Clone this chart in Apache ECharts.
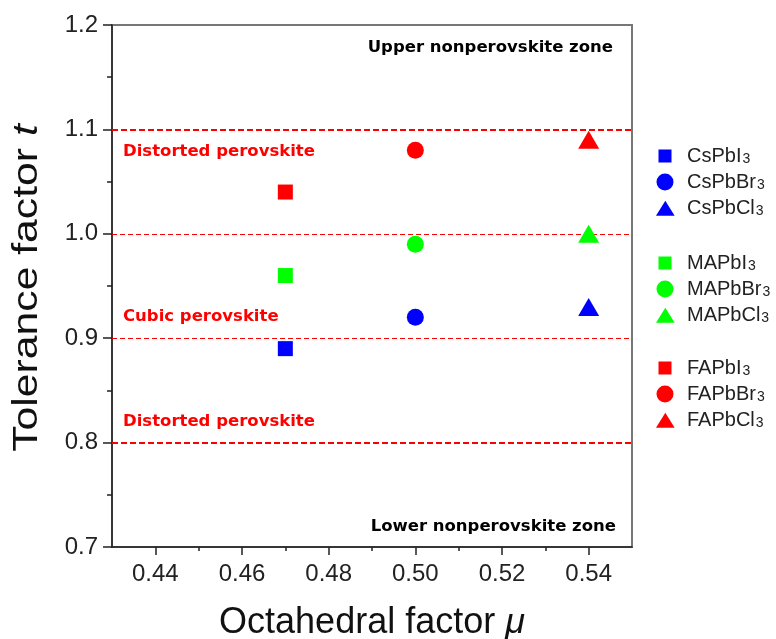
<!DOCTYPE html>
<html>
<head>
<meta charset="utf-8">
<script src="https://cdn.jsdelivr.net/npm/echarts@6/dist/echarts.min.js"></script>
<style>html,body{margin:0;padding:0;background:#fff}#c{width:776px;height:639px}</style>
</head>
<body>
<div id="c"></div>
<script>
// ---- data ----
const compounds = ['CsPbI3','CsPbBr3','CsPbCl3','MAPbI3','MAPbBr3','MAPbCl3','FAPbI3','FAPbBr3','FAPbCl3'];
const muValues  = [0.47, 0.50, 0.54, 0.47, 0.50, 0.54, 0.47, 0.50, 0.54];
const tValues   = [0.89, 0.92, 0.93, 0.96, 0.99, 1.00, 1.04, 1.08, 1.09];
const legendGroups = [['CsPbI3','CsPbBr3','CsPbCl3'],['MAPbI3','MAPbBr3','MAPbCl3'],['FAPbI3','FAPbBr3','FAPbCl3']];
const refLines = [1.1, 1.0, 0.9, 0.8];
const xMajorTicks = [0.44, 0.46, 0.48, 0.50, 0.52, 0.54];
const xMinorTicks = [0.45, 0.47, 0.49, 0.51, 0.53];
const annotations = ['Upper nonperovskite zone','Distorted perovskite','Cubic perovskite','Distorted perovskite','Lower nonperovskite zone'];
const xTitle = 'Octahedral factor ';
const xTitleSymbol = 'μ';
const yTitle = 'Tolerance factor ';
const yTitleSymbol = 't';

// ---- style ----
const seriesColors = ['#0000ff','#0000ff','#0000ff','#00ff00','#00ff00','#00ff00','#ff0000','#ff0000','#ff0000'];
const seriesSymbols = ['rect','circle','triangle','rect','circle','triangle','rect','circle','triangle'];
const seriesSizes = [15, 17, [21,18], 15, 17, [21,18], 15, 17, [21,18]];
const legendIcons = {
  rect: 'path://M0,0M26,17M2.5,2h13v13h-13z',
  circle: 'path://M0,0M26,17M0.5,8.5a8.5,8.5 0 1,0 17,0a8.5,8.5 0 1,0 -17,0z',
  triangle: 'path://M0,0M26,17M9,1L18.5,16.5L-0.5,16.5z'
};

const chart = echarts.init(document.getElementById('c'), null, {renderer:'canvas'});
const FONT = '"Liberation Sans", Arial, sans-serif';
const grid = {left:112, top:25, right:144, bottom:92};

const series = compounds.map((name, i) => ({
  name: name,
  type: 'scatter',
  symbol: seriesSymbols[i],
  symbolSize: seriesSizes[i],
  itemStyle: {color: seriesColors[i], opacity: 1},
  data: [[muValues[i], tValues[i]]],
  z: 5
}));
series[0].markLine = {
  silent: true, symbol: 'none', label: {show: false},
  lineStyle: {color: '#ff0000', type: [5,3], width: 1},
  data: refLines.map((v, i) => ({
    yAxis: v,
    lineStyle: {color:'#ff0000', width: (i === 0 || i === 3) ? 2 : 1, type: (i === 0 || i === 3) ? [6,3] : [5,3]}
  })),
  z: 2
};

const legendTops = [142, 249, 354];
const legends = legendGroups.map((g, gi) => ({
  orient: 'vertical',
  left: 656,
  top: legendTops[gi],
  itemWidth: 26,
  itemHeight: 17,
  itemGap: 2,
  padding: 0,
  selectedMode: false,
  data: g.map(n => ({name: n, icon: legendIcons[seriesSymbols[compounds.indexOf(n)]]})),
  formatter: n => '{m|' + n.slice(0, -1) + '}{s|' + n.slice(-1) + '}',
  textStyle: {
    color: '#222',
    rich: {
      m: {fontFamily: FONT, fontSize: 20, color: '#222', lineHeight: 20},
      s: {fontFamily: FONT, fontSize: 14, color: '#222', verticalAlign: 'bottom', lineHeight: 20, padding: [10,0,0,1]}
    }
  }
}));

const annStyle = (text, x, y, align, color) => ({
  type: 'text', x: x, y: y, z: 10, silent: true,
  style: {text: text, fill: color, font: 'bold 16.5px "DejaVu Sans", Verdana, sans-serif', textAlign: align, textVerticalAlign: 'middle'}
});

chart.setOption({
  animation: false,
  backgroundColor: '#ffffff',
  grid: Object.assign({show: true, borderColor: '#777', borderWidth: 2, backgroundColor: 'transparent',
    containLabel: false, outerBoundsMode: 'none'}, grid),
  xAxis: [{
    type: 'value', min: 0.43, max: 0.55, position: 'bottom',
    name: xTitle + '{i|' + xTitleSymbol + '}', nameLocation: 'middle', nameGap: 58,
    nameTextStyle: {fontFamily: FONT, fontSize: 36, color: '#111',
      rich: {i: {fontFamily: FONT, fontSize: 36, fontStyle: 'italic', color: '#111'}}},
    axisLine: {show: true, lineStyle: {color: '#222', width: 1.5}},
    axisTick: {show: true, inside: false, length: 8, customValues: xMajorTicks, lineStyle: {color: '#222', width: 1.5}},
    axisLabel: {show: true, customValues: xMajorTicks, margin: 15, fontFamily: FONT, fontSize: 24, color: '#222',
      formatter: v => v.toFixed(2)},
    splitLine: {show: false}
  }, {
    type: 'value', min: 0.43, max: 0.55, position: 'bottom',
    axisLine: {show: false},
    axisTick: {show: true, inside: false, length: 4, customValues: xMinorTicks, lineStyle: {color: '#222', width: 1.5}},
    axisLabel: {show: false},
    splitLine: {show: false}
  }],
  yAxis: [{
    type: 'value', min: 0.7, max: 1.2, interval: 0.1,
    axisLine: {show: true, lineStyle: {color: '#222', width: 1.5}},
    axisTick: {show: true, inside: false, length: 9, lineStyle: {color: '#222', width: 1.5}},
    minorTick: {show: true, splitNumber: 2, length: 5, lineStyle: {color: '#222', width: 1.5}},
    axisLabel: {margin: 14, fontFamily: FONT, fontSize: 24, color: '#222', formatter: v => v.toFixed(1)},
    splitLine: {show: false}
  }],
  legend: legends,
  series: series,
  graphic: [
    annStyle(annotations[0], 613, 48, 'right', '#000'),
    annStyle(annotations[1], 123, 152, 'left', '#ff0000'),
    annStyle(annotations[2], 123, 317, 'left', '#ff0000'),
    annStyle(annotations[3], 123, 422, 'left', '#ff0000'),
    annStyle(annotations[4], 616, 527, 'right', '#000'),
    {
      type: 'text', x: 27, y: 288, rotation: Math.PI / 2, scaleX: 1.22, silent: true, z: 10,
      style: {
        text: yTitle + '{i|' + yTitleSymbol + '}',
        fill: '#111', font: '35px "Liberation Sans", Arial, sans-serif',
        textAlign: 'center', textVerticalAlign: 'middle',
        rich: {i: {fontFamily: FONT, fontSize: 35, fontStyle: 'italic', fill: '#111'}}
      }
    }
  ]
});
</script>
</body>
</html>
